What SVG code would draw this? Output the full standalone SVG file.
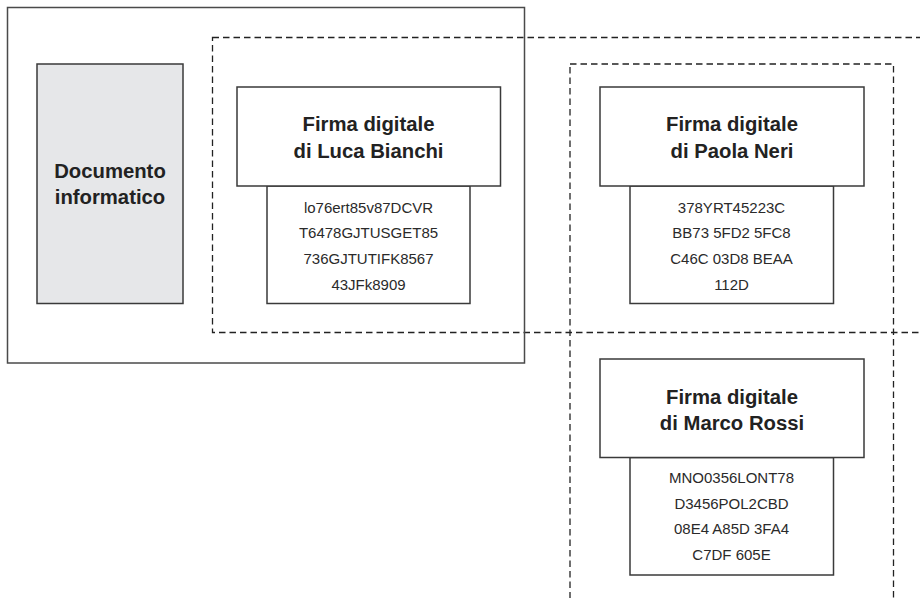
<svg xmlns="http://www.w3.org/2000/svg" width="920" height="598" viewBox="0 0 920 598">
  <style>
    .bg { fill: #ffffff; }
    .frame { fill: none; stroke: #4a4a4a; stroke-width: 1.5; }
    .scope { fill: none; stroke: #222222; stroke-width: 1.3; stroke-dasharray: 6.5 4; }
    .doc { fill: #e6e7e9; stroke: #3a3a3a; stroke-width: 1.5; }
    .head { fill: #ffffff; stroke: #3a3a3a; stroke-width: 1.5; }
    .hash { fill: #ffffff; stroke: #3a3a3a; stroke-width: 1.5; }
    .title { font-family: "Liberation Sans", Arial, sans-serif; font-weight: bold; font-size: 20.3px; fill: #222222; text-anchor: middle; }
    .code { font-family: "Liberation Sans", Arial, sans-serif; font-size: 15px; fill: #2a2a2a; text-anchor: middle; }
  </style>

  <rect class="bg" x="0" y="0" width="920" height="598"/>

  <!-- signature scopes (dashed envelopes) -->
  <g id="connectors">
    <rect class="scope" x="212.5" y="37.5" width="720" height="295"/>
    <rect class="scope" x="570" y="64" width="323.5" height="600"/>
  </g>

  <!-- outer container: signed document -->
  <g id="signed-document">
    <rect class="frame" x="7.5" y="7.5" width="517" height="355.5"/>
  </g>

  <g id="documento">
    <rect class="doc" x="37" y="64" width="146" height="239.5"/>
    <text class="title" x="110" y="177.5">Documento</text>
    <text class="title" x="110" y="204">informatico</text>
  </g>

  <g id="firma-luca">
    <rect class="hash" x="267" y="186" width="203" height="117.5"/>
    <rect class="head" x="237" y="87" width="263.5" height="99"/>
    <text class="title" x="368.5" y="131">Firma digitale</text>
    <text class="title" x="368.5" y="157.5">di Luca Bianchi</text>
    <text class="code" x="368.5" y="212.5">lo76ert85v87DCVR</text>
    <text class="code" x="368.5" y="238">T6478GJTUSGET85</text>
    <text class="code" x="368.5" y="263.5">736GJTUTIFK8567</text>
    <text class="code" x="368.5" y="289.5">43JFk8909</text>
  </g>

  <g id="firma-paola">
    <rect class="hash" x="630" y="186" width="203.5" height="117.5"/>
    <rect class="head" x="600" y="87" width="264" height="99"/>
    <text class="title" x="732" y="131">Firma digitale</text>
    <text class="title" x="732" y="157.5">di Paola Neri</text>
    <text class="code" x="731.5" y="212.5">378YRT45223C</text>
    <text class="code" x="731.5" y="238">BB73 5FD2 5FC8</text>
    <text class="code" x="731.5" y="263.5">C46C 03D8 BEAA</text>
    <text class="code" x="731.5" y="289.5">112D</text>
  </g>

  <g id="firma-marco">
    <rect class="hash" x="630" y="457.5" width="203.5" height="117.5"/>
    <rect class="head" x="600" y="359" width="264" height="98.5"/>
    <text class="title" x="732" y="403.5">Firma digitale</text>
    <text class="title" x="732" y="429.5">di Marco Rossi</text>
    <text class="code" x="731.5" y="483">MNO0356LONT78</text>
    <text class="code" x="731.5" y="508.5">D3456POL2CBD</text>
    <text class="code" x="731.5" y="534">08E4 A85D 3FA4</text>
    <text class="code" x="731.5" y="560">C7DF 605E</text>
  </g>
</svg>
